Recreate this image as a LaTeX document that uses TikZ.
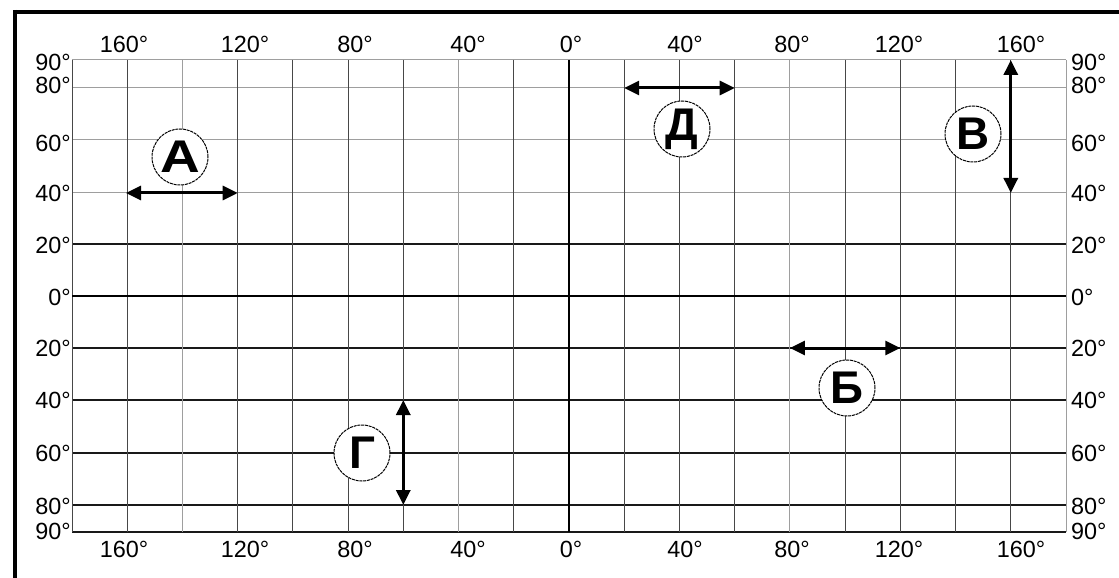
\documentclass[tikz,border=0pt]{standalone}
\usepackage{fontspec}
\setmainfont{Liberation Sans}
\usetikzlibrary{arrows.meta}
\begin{document}
\begin{tikzpicture}[x=1bp,y=-1bp,
  lbl/.style={font=\fontsize{23.5}{23.5}\selectfont, inner sep=0pt, text=black},
  mer/.style={draw=black!72, line width=1bp},
  merlight/.style={draw=black!38, line width=1bp},
  parN/.style={draw=black!38, line width=1bp},
  parS/.style={draw=black!90, line width=1.1bp},
  axis/.style={draw=black, line width=2.8bp},
  twoway/.style={line width=3bp, {Triangle[length=15bp,width=14bp]}-{Triangle[length=15bp,width=14bp]}},
  letter/.style={circle, draw=black, line width=1bp, dash pattern=on 3bp off 0.8bp, fill=white, minimum size=56bp, inner sep=0pt, font=\fontsize{46}{46}\selectfont\bfseries}
]
\useasboundingbox (0,0) rectangle (1119,578);
\fill[white] (0,0) rectangle (1119,578);
% outer frame
\draw[line width=4bp] (13,12) -- (1119,12);
\draw[line width=4bp] (15,10) -- (15,578);
% parallels, northern (light) and southern (dark)
\foreach \y in {60,88,140,193} \draw[parN] (72,\y) -- (1066,\y);
\draw[parS] (72,244) -- (1066,244);
\foreach \y in {348,400,453,505,532} \draw[parS] (72,\y) -- (1066,\y);
% meridians
\foreach \i in {-9,-8,-6,-5,-4,-3,-1,1,2,3,5,6,7,8} \draw[mer] ({569+55.222*\i},60) -- ({569+55.222*\i},532);
\foreach \i in {-7,-2,4,9} \draw[merlight] ({569+55.222*\i},60) -- ({569+55.222*\i},532);
% equator and prime meridian
\draw[axis] (72,296) -- (1066,296);
\draw[axis] (569,60) -- (569,532);
% top and bottom longitude labels
\foreach \x/\t in {124/160,245/120,355/80,468/40,571/0,685/40,792/80,899/120,1021/160} {
  \node[lbl] (top\x) at (\x,44) {\t°};
  \node[lbl] (bot\x) at (\x,549) {\t°};
}
% left and right latitude labels
\foreach \y/\t in {62.5/90,85/80,143/60,193/40,245/20,297/0,348/20,400/40,453/60,506/80,531/90} {
  \node[lbl, anchor=east] (L\y) at (71,\y) {\t°};
  \node[lbl, anchor=west] (R\y) at (1071,\y) {\t°};
}
% arrows
\coordinate (a1) at (126,193); \coordinate (a2) at (237.7,193);
\coordinate (d1) at (624.2,88); \coordinate (d2) at (734.7,88);
\coordinate (v1) at (1010.8,60); \coordinate (v2) at (1010.8,193);
\coordinate (b1) at (789.9,348); \coordinate (b2) at (900.3,348);
\coordinate (g1) at (403.3,400); \coordinate (g2) at (403.3,505);
\draw[twoway] (a1) -- (a2);
\draw[twoway] (d1) -- (d2);
\draw[twoway] (v1) -- (v2);
\draw[twoway] (b1) -- (b2);
\draw[twoway] (g1) -- (g2);
% circled letters
\node[letter] (A) at (180,157) {\scalebox{1.2}[1]{А}};
\node[letter] (D) at (682,129) {Д};
\node[letter] (V) at (973,134) {В};
\node[letter] (B) at (847,388) {Б};
\node[letter] (G) at (362,453) {Г};
\end{tikzpicture}
\end{document}
